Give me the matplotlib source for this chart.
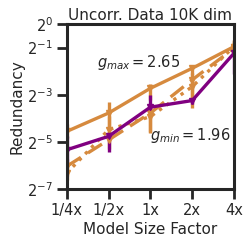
import matplotlib
matplotlib.use("Agg")
import matplotlib.pyplot as plt
import numpy as np

# data (log2 of redundancy)
size_labels = ["1/4x", "1/2x", "1x", "2x", "4x"]
x_pos = np.arange(len(size_labels))

max_log = [-4.56, -3.78, -2.73, -1.88, -0.96]
max_err_lo = [0.3, 0.6, 0.5, 0.3, 0.2]
max_err_hi = [0.3, 0.45, 0.2, 0.1, 0.3]

min_log = [-5.34, -4.77, -3.53, -3.25, -1.24]
min_err_lo = [0.6, 0.65, 0.3, 0.15, 0.9]
min_err_hi = [0.6, 0.2, 0.5, 0.1, 0.2]

dash_log = [-6.04, -4.92, -3.78, -2.37, -1.03]
dash_err_lo = [0.4, 0.4, 0.8, 1.2, 0.3]
dash_err_hi = [0.3, 0.3, 0.4, 0.3, 0.3]

dot_log = [-6.33, -4.49, -3.93, -2.66, -0.96]
dot_err_lo = [0.3, 0.4, 0.7, 0.5, 0.3]
dot_err_hi = [0.3, 0.6, 0.5, 0.4, 0.3]

y_ticks_log = [0, -1, -3, -5, -7]

orange = "#D68A3E"
purple = "#800080"
dark = "#262626"

plt.rcParams["font.family"] = "DejaVu Sans"
plt.rcParams["text.color"] = dark
plt.rcParams["axes.labelcolor"] = dark
plt.rcParams["xtick.color"] = dark
plt.rcParams["ytick.color"] = dark

fig = plt.figure(figsize=(2.5, 2.45), dpi=100)
ax = fig.add_axes([0.267, 0.229, 0.669, 0.673])


def draw(vals, lo, hi, color, ls):
    v = np.array(vals)
    y = 2.0 ** v
    err = [y - 2.0 ** (v - np.array(lo)), 2.0 ** (v + np.array(hi)) - y]
    ax.errorbar(x_pos, y, yerr=err, color=color, ls=ls, lw=2.4,
                marker="v", ms=4.5, elinewidth=2.4, capsize=0)


draw(dot_log, dot_err_lo, dot_err_hi, orange, ":")
draw(dash_log, dash_err_lo, dash_err_hi, orange, (0, (5, 2.5)))
draw(max_log, max_err_lo, max_err_hi, orange, "-")
draw(min_log, min_err_lo, min_err_hi, purple, "-")

ax.set_yscale("log", base=2)
ax.set_ylim(2.0 ** -7, 2.0 ** 0)
ax.set_xlim(0, 4)
ax.set_yticks([2.0 ** t for t in y_ticks_log])
ax.set_yticklabels([r"$2^{%d}$" % t for t in y_ticks_log])
ax.minorticks_off()
ax.set_xticks(x_pos)
ax.set_xticklabels(size_labels)

ax.text(0.72, 2.0 ** -1.65, r"$g_{max} = 2.65$", fontsize=10.5, va="center", color=dark)
ax.text(2.0, 2.0 ** -4.73, r"$g_{min} = 1.96$", fontsize=10.5, va="center", color=dark)

ax.set_title("Uncorr. Data 10K dim", fontsize=11, pad=3)
ax.set_xlabel("Model Size Factor", fontsize=11, labelpad=3)
ax.set_ylabel("Redundancy", fontsize=11, labelpad=2)

for s in ax.spines.values():
    s.set_linewidth(2.2)
    s.set_color(dark)
ax.tick_params(axis="both", length=7, width=2, labelsize=10.5, pad=3)

fig.savefig("out.png", dpi=100)
